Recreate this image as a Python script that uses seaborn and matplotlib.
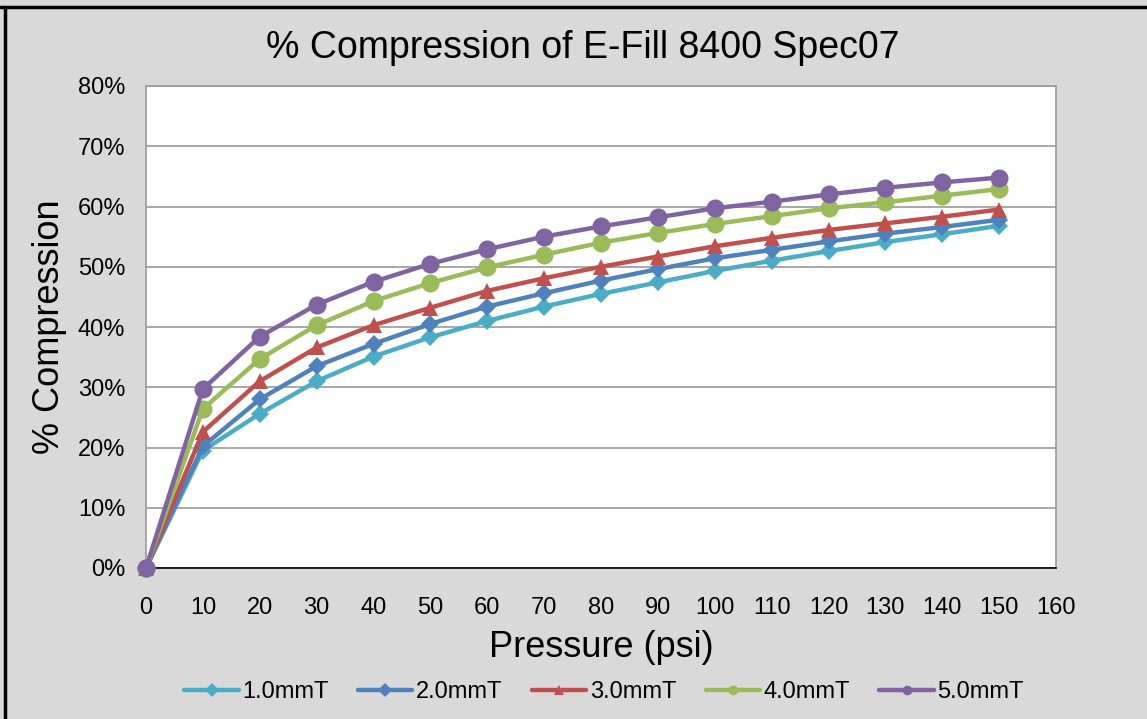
import matplotlib
matplotlib.use("Agg")
import matplotlib.pyplot as plt
import matplotlib.ticker as mticker
from matplotlib.lines import Line2D
import pandas as pd
import seaborn as sns

# pressure steps (psi)
pressure = [0, 10, 20, 30, 40, 50, 60, 70, 80, 90, 100, 110, 120, 130, 140, 150]

# % compression per foam thickness
comp_10 = [0, 19.5, 25.6, 31.0, 35.1, 38.3, 41.0, 43.4, 45.5, 47.4, 49.3, 51.0, 52.6, 54.1, 55.4, 56.8]
comp_20 = [0, 20.2, 28.0, 33.5, 37.2, 40.5, 43.4, 45.6, 47.7, 49.6, 51.4, 52.8, 54.2, 55.5, 56.6, 57.8]
comp_30 = [0, 22.6, 31.0, 36.6, 40.3, 43.2, 46.0, 48.1, 50.0, 51.7, 53.4, 54.8, 56.1, 57.2, 58.3, 59.5]
comp_40 = [0, 26.4, 34.7, 40.3, 44.3, 47.3, 49.9, 52.0, 54.0, 55.6, 57.1, 58.4, 59.7, 60.7, 61.8, 62.9]
comp_50 = [0, 29.7, 38.4, 43.7, 47.5, 50.5, 52.9, 55.0, 56.7, 58.2, 59.7, 60.8, 62.0, 63.1, 64.0, 64.8]

series_names = ["1.0mmT", "2.0mmT", "3.0mmT", "4.0mmT", "5.0mmT"]
series_vals = [comp_10, comp_20, comp_30, comp_40, comp_50]
colors = ["#4BACC6", "#4F81BD", "#C0504D", "#9BBB59", "#8064A2"]
markers = ["D", "D", "^", "o", "o"]
msizes = [9, 9, 12, 13, 13]

rows = []
for name, vals in zip(series_names, series_vals):
    for p, v in zip(pressure, vals):
        rows.append({"Pressure": p, "Compression": v / 100.0, "Series": name})
df = pd.DataFrame(rows)

sns.set_style("white")
plt.rcParams["font.family"] = ["Liberation Sans", "DejaVu Sans"]
plt.rcParams["text.color"] = "black"
plt.rcParams["axes.labelcolor"] = "black"
plt.rcParams["xtick.labelcolor"] = "black"
plt.rcParams["ytick.labelcolor"] = "black"

bg = "#D9D9D9"
W, H = 1147, 719
fig = plt.figure(figsize=(W / 100, H / 100), dpi=100, facecolor=bg)
ax = fig.add_axes([146 / W, 1 - 568 / H, (1056 - 146) / W, (568 - 86) / H])
ax.set_facecolor("white")

for name, col, mk, ms in zip(series_names, colors, markers, msizes):
    sub = df[df["Series"] == name]
    sns.lineplot(data=sub, x="Pressure", y="Compression", ax=ax, color=col,
                 marker=mk, markersize=ms, markeredgewidth=0, linewidth=3.2,
                 clip_on=False, zorder=3)

ax.set_xlim(0, 160)
ax.set_ylim(0, 0.8)
ax.set_xticks(range(0, 161, 10))
ax.set_yticks([i / 10 for i in range(9)])
ax.yaxis.set_major_formatter(mticker.PercentFormatter(1.0, decimals=0))
ax.grid(axis="y", color="#9A9A9A", linewidth=1.2)
ax.set_axisbelow(True)

for side in ["top", "right", "left"]:
    ax.spines[side].set_color("#9A9A9A")
    ax.spines[side].set_linewidth(1.2)
ax.spines["bottom"].set_color("black")
ax.spines["bottom"].set_linewidth(1.2)

ax.tick_params(axis="x", direction="in", length=7, width=1.2, color="black",
               labelcolor="black", labelsize=17, pad=21)
ax.tick_params(axis="y", direction="out", length=3, width=1.0, color="#9A9A9A",
               labelcolor="black", labelsize=17, pad=12)

ax.set_xlabel("Pressure (psi)", fontsize=26, labelpad=8, color="black")
ax.set_ylabel("% Compression", fontsize=26, color="black")
ax.yaxis.set_label_coords((67 - 146) / (1056 - 146), 0.5)
fig.text(583 / W, 1 - 48 / H, "% Compression of E-Fill 8400 Spec07",
         fontsize=27, ha="center", va="center", color="black")

# legend with small markers (proxy handles so plotted markers stay large)
handles = [Line2D([], [], color=c, marker=m, markersize=7, markeredgewidth=0, linewidth=3.2)
           for c, m in zip(colors, markers)]
leg = ax.legend(handles, series_names, loc="center", bbox_to_anchor=(604 / W, 1 - 692 / H),
                bbox_transform=fig.transFigure, ncol=5, frameon=False, fontsize=17,
                handlelength=2.3, columnspacing=1.25, handletextpad=0.15)
for t in leg.get_texts():
    t.set_color("black")

# chart frame lines (outer sheet border)
fig.add_artist(plt.Line2D([0, 1], [1 - 7 / H, 1 - 7 / H], color="black", linewidth=2.5,
                          transform=fig.transFigure))
fig.add_artist(plt.Line2D([5 / W, 5 / W], [0, 1 - 7 / H], color="black", linewidth=2.5,
                          transform=fig.transFigure))

fig.savefig("out.png", dpi=100, facecolor=bg)
